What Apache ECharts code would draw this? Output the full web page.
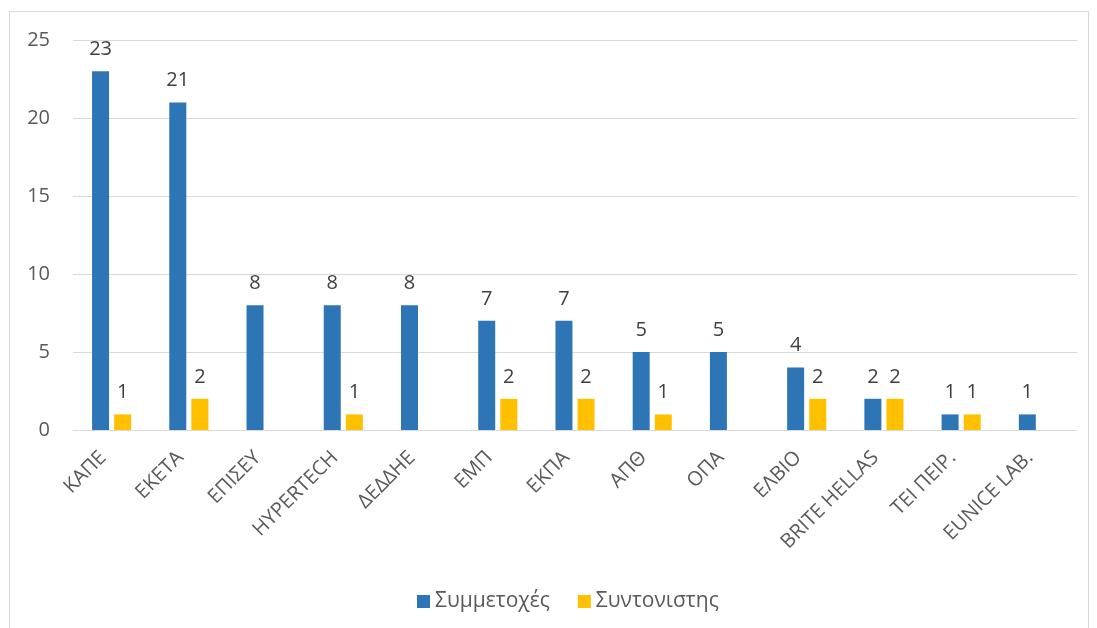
<!DOCTYPE html>
<html><head><meta charset="utf-8">
<script src="https://cdn.jsdelivr.net/npm/echarts@6/dist/echarts.min.js"></script>
<style>
html,body{margin:0;padding:0;background:#fff;}
#frame{position:absolute;left:9px;top:11px;width:1080px;height:630px;border:1.5px solid #d9d9d9;box-sizing:border-box;}
#chart{position:absolute;left:0;top:0;width:1097px;height:628px;}
</style></head>
<body>
<div id="frame"></div>
<div id="chart"></div>
<script>
const categories = ['ΚΑΠΕ','ΕΚΕΤΑ','ΕΠΙΣΕΥ','HYPERTECH','ΔΕΔΔΗΕ','ΕΜΠ','ΕΚΠΑ','ΑΠΘ','ΟΠΑ','ΕΛΒΙΟ','BRITE HELLAS','ΤΕΙ ΠΕΙΡ.','EUNICE LAB.'];
const participations = [23,21,8,8,8,7,7,5,5,4,2,1,1];
const coordinator = [1,2,null,1,null,2,2,1,null,2,2,1,null];
const yTicks = [0,5,10,15,20,25];

const chart = echarts.init(document.getElementById('chart'));
const font = '"Open Sans", "Noto Sans", sans-serif';
chart.setOption({
  animation:false,
  textStyle:{fontFamily:font},
  grid:{left:73,right:20,top:40,bottom:198,containLabel:false},
  legend:{
    left:412,top:586,itemWidth:13,itemHeight:13,itemGap:28,icon:'rect',
    textStyle:{fontSize:21,color:'#595959',fontFamily:font},
    data:['Συμμετοχές','Συντονιστης']
  },
  xAxis:{
    type:'category',data:categories,
    axisLine:{lineStyle:{color:'#d9d9d9',width:1}},
    axisTick:{show:false},
    axisLabel:{rotate:45,fontSize:20,color:'#595959',margin:16,padding:[0,12,0,0],interval:0,fontFamily:font}
  },
  yAxis:{
    type:'value',min:yTicks[0],max:yTicks[yTicks.length-1],interval:5,
    axisLine:{show:false},axisTick:{show:false},
    splitLine:{lineStyle:{color:'#d9d9d9',width:1}},
    axisLabel:{fontSize:20,color:'#595959',margin:23,fontFamily:font}
  },
  series:[
    {name:'Συμμετοχές',type:'bar',data:participations,barWidth:17,barGap:'30%',
     itemStyle:{color:'#2e75b6'},
     label:{show:true,position:'top',fontSize:20,color:'#404040',distance:12,fontFamily:font}},
    {name:'Συντονιστης',type:'bar',data:coordinator,barWidth:17,
     itemStyle:{color:'#ffc000'},
     label:{show:true,position:'top',fontSize:20,color:'#404040',distance:12,fontFamily:font}}
  ]
});
</script>
</body></html>
